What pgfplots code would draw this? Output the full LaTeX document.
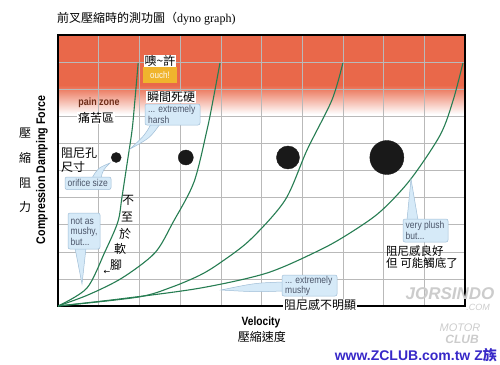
\documentclass[border=0pt]{standalone}
\usepackage{pgfplots}
\pgfplotsset{compat=1.18}
\usepackage{fontspec}
\setmainfont{Liberation Sans}
\newfontfamily\cjk{Noto Sans CJK TC}
\newfontfamily\cond{Liberation Sans}[FakeStretch=0.85]
\newfontfamily\serif{Liberation Serif}
\newfontfamily\sym{DejaVu Sans}
\definecolor{painred}{RGB}{233,104,74}
\definecolor{curvegreen}{RGB}{38,125,82}
\definecolor{boxfill}{RGB}{214,234,248}
\definecolor{boxdraw}{RGB}{160,190,215}
\definecolor{boxtext}{RGB}{75,85,105}
\definecolor{ouchcol}{RGB}{240,180,45}
\definecolor{painbrown}{RGB}{110,45,25}
\definecolor{zclub}{RGB}{55,40,200}
\pgfdeclareverticalshading{painshade}{100bp}{color(0bp)=(white); color(60.4bp)=(white); color(65.75bp)=(painred); color(100bp)=(painred)}
\tikzset{
  cbox/.style={fill=boxfill, draw=boxdraw, line width=0.5pt, rounded corners=2pt},
  ctext/.style={text=boxtext, inner sep=0pt, anchor=west, font=\cond\fontsize{10}{11}\selectfont},
  cjkl/.style={inner sep=0.6pt, font=\cjk\fontsize{12}{14}\selectfont},
}
\begin{document}
\begin{tikzpicture}
\path[use as bounding box] (0,0) rectangle (500pt,-364pt);
\begin{axis}[
  at={(58pt,-306pt)}, anchor=south west,
  width=407pt, height=271pt, scale only axis,
  xmin=0, xmax=10, ymin=0, ymax=10,
  xtick={0,...,10}, ytick={0,...,10},
  xticklabels={}, yticklabels={},
  major tick length=0pt,
  grid=major, grid style={gray!55, line width=0.6pt},
  axis line style={black, line width=1.6pt},
  axis background/.style={shading=painshade},
]
% curves
\addplot[smooth, curvegreen, line width=1.1pt] coordinates {
 (0,0) (0.71,0.66) (1.15,1.99) (1.47,3.1) (1.57,4.0) (1.70,5.28) (1.82,6.49) (1.89,7.6) (1.97,8.97)};
\addplot[smooth, curvegreen, line width=1.1pt] coordinates {
 (0,0) (0.74,0.41) (1.57,1.03) (2.38,1.96) (2.83,3.1) (3.34,4.57) (3.66,6.49) (3.81,7.6) (3.98,8.97)};
\addplot[smooth, curvegreen, line width=1.1pt] coordinates {
 (0,0) (1.97,0.33) (2.80,0.70) (3.49,1.14) (3.98,1.59) (4.72,2.44) (5.58,3.91) (6.12,5.76) (6.73,7.6) (7.0,8.97)};
\addplot[smooth, curvegreen, line width=1.1pt] coordinates {
 (0,0) (1.52,0.26) (3.49,0.66) (5.14,1.22) (6.44,2.07) (7.17,2.69) (7.91,3.47) (8.65,4.65) (9.39,6.31) (9.71,7.6) (9.95,8.97)};
% orifice dots
\addplot[only marks, mark=*, mark size=5pt, black!90] coordinates {(1.43,5.48)};
\addplot[only marks, mark=*, mark size=7.5pt, black!90] coordinates {(3.14,5.48)};
\addplot[only marks, mark=*, mark size=11.5pt, black!90] coordinates {(5.65,5.48)};
\addplot[only marks, mark=*, mark size=17pt, black!90] coordinates {(8.08,5.48)};
\end{axis}
\begin{scope}[x=1pt,y=-1pt]
% title
\node[anchor=west, inner sep=0pt] at (57,19) {\cjk\fontsize{12}{14}\selectfont 前叉壓縮時的測功圖（{\serif dyno graph)}};
% y label
\node[rotate=90, inner sep=0pt] at (42,170) {\cond\bfseries\fontsize{12.5}{14}\selectfont Compression Damping Force};
\foreach \c/\yy in {壓/133, 縮/158, 阻/183, 力/207}
  \node[cjkl] at (25,\yy) {\c};
% x label
\node[inner sep=0pt] at (261,322) {\cond\bfseries\fontsize{12}{14}\selectfont Velocity};
\node[cjkl, anchor=west] at (237,337) {壓縮速度};
% ouch
\node[cjkl, fill=white] at (160,61) {噢\textasciitilde 許};
\fill[ouchcol] (143,67) rectangle (177,83);
\node[inner sep=0pt, text=white!92!ouchcol] at (160,75) {\cond\fontsize{9.5}{10}\selectfont ouch!};
% harsh
\node[cjkl, fill=white] at (171,97) {瞬間死硬};
\filldraw[boxfill, draw=boxdraw, line width=0.5pt] (151,124) .. controls (145,135) .. (130,149) .. controls (150,138) .. (160,124) -- cycle;
\draw[cbox] (145,104) rectangle (200,125);
\node[ctext] at (148,109.5) {... extremely};
\node[ctext] at (148,119.5) {harsh};
% pain zone
\node[inner sep=0pt, text=painbrown] at (99,103) {\cond\bfseries\fontsize{10.5}{11}\selectfont pain zone};
\node[cjkl, fill=white] at (96,118) {痛苦區};
% orifice size
\node[cjkl, anchor=west, align=left, inner sep=0pt] at (61,160) {阻尼孔\\尺寸};
\filldraw[boxfill, draw=boxdraw, line width=0.5pt] (92,178) .. controls (98,168) .. (110,163) .. controls (103,170) .. (101,178) -- cycle;
\draw[cbox] (65,177) rectangle (111,189.5);
\node[ctext] at (67.5,183.3) {orifice size};
% not as mushy
\filldraw[boxfill, draw=boxdraw, line width=0.5pt] (75,248) -- (82,284) -- (86,248) -- cycle;
\draw[cbox] (68,213) rectangle (100,249);
\node[ctext] at (70.5,221) {not as};
\node[ctext] at (70.5,232) {mushy,};
\node[ctext] at (70.5,242) {but...};
% vertical text
\node[cjkl] at (128,200) {不};
\node[cjkl] at (127,217) {至};
\node[cjkl] at (125,234) {於};
\node[cjkl] at (120,249) {軟};
\node[cjkl] at (116,265) {腳};
\node[inner sep=0pt] at (107,272) {\sym\fontsize{8}{8}\selectfont ←};
% extremely mushy
\filldraw[boxfill, draw=boxdraw, line width=0.5pt] (283,282) .. controls (255,283) .. (221,290) .. controls (255,292) .. (283,291) -- cycle;
\draw[cbox] (282,275) rectangle (337,296);
\node[ctext] at (285,280.5) {... extremely};
\node[ctext] at (285,290.5) {mushy};
\node[cjkl, fill=white] at (320,305) {阻尼感不明顯};
% very plush
\filldraw[boxfill, draw=boxdraw, line width=0.5pt] (407,220) -- (411,179) -- (418,220) -- cycle;
\draw[cbox] (403,219) rectangle (448,242);
\node[ctext] at (405.5,225.5) {very plush};
\node[ctext] at (405.5,236) {but...};
\node[anchor=west, align=left, inner sep=0pt, font=\cjk\fontsize{11.5}{12.5}\selectfont] at (386,257) {阻尼感良好\\但 可能觸底了};
% watermark
\node[inner sep=0pt, text=gray!40] at (450,294) {\bfseries\itshape\fontsize{17}{18}\selectfont JORSINDO};
\node[inner sep=0pt, text=gray!40] at (478,307) {\itshape\fontsize{9}{9}\selectfont .COM};
\node[inner sep=0pt, text=gray!40] at (460,328) {\itshape\fontsize{11}{11}\selectfont MOTOR};
\node[inner sep=0pt, text=gray!40] at (462,339) {\bfseries\itshape\fontsize{12}{12}\selectfont CLUB};
\node[anchor=east, inner sep=0pt, text=zclub] at (497,355) {\bfseries\fontsize{14}{15}\selectfont www.ZCLUB.com.tw Z{\cjk\bfseries 族}};
\end{scope}
\end{tikzpicture}
\end{document}
